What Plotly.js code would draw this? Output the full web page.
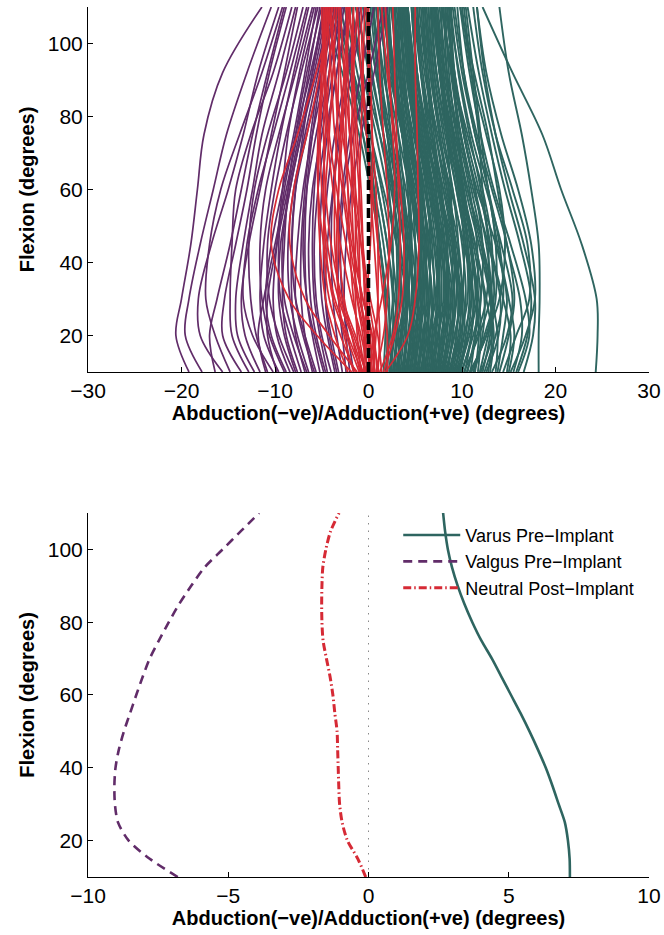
<!DOCTYPE html>
<html>
<head>
<meta charset="utf-8">
<script src="https://cdn.plot.ly/plotly-3.0.1.min.js"></script>
<style>
  html, body { margin: 0; padding: 0; background: #fff; }
  #chart { width: 664px; height: 935px; }
</style>
</head>
<body>
<div id="chart"></div>
<script>
// Flexion angles (degrees) at which every individual trial is sampled
const trialFlexion = [10, 20, 30, 45, 60, 75, 92, 110];

// Varus knees, pre-implant: abduction/adduction (degrees) per trial
const varusTrials = [
  [24.3, 24.5, 24.4, 22.8, 20.6, 18.6, 15.4, 12.2],
  [18.2, 18.2, 18.3, 18.2, 17.4, 16.4, 15.0, 14.0],
  [15.8, 17.0, 17.4, 16.2, 14.6, 13.2, 11.8, 10.6],
  [15.5, 16.4, 16.2, 14.8, 13.8, 12.8, 11.3, 9.8],
  [14.4, 15.8, 17.2, 17.0, 15.4, 13.6, 12.2, 11.2],
  [13.2, 14.8, 15.4, 14.2, 12.6, 11.0, 9.7, 8.6],
  [12.6, 13.9, 14.1, 12.8, 11.2, 9.9, 8.9, 7.8],
  [11.9, 12.8, 13.6, 13.6, 12.8, 11.4, 10.2, 9.5],
  [11.2, 12.2, 12.4, 11.4, 10.1, 9.1, 8.2, 7.2],
  [10.6, 11.4, 12.0, 11.2, 9.8, 8.4, 7.3, 6.7],
  [16.0, 17.2, 16.8, 15.2, 13.4, 12.0, 10.8, 9.8],
  [14.8, 15.2, 14.4, 13.0, 12.2, 11.8, 11.0, 10.2],
  [13.8, 14.4, 14.8, 13.6, 11.6, 10.2, 9.2, 8.4],
  [12.0, 13.2, 13.0, 11.8, 10.4, 9.6, 9.0, 8.6],
  [10.2, 11.8, 13.0, 13.2, 12.2, 10.6, 9.0, 7.8],
  [9.8, 10.6, 11.0, 10.4, 9.4, 8.4, 7.6, 7.0],
  [9.4, 10.2, 10.2, 9.4, 8.2, 7.2, 6.4, 5.8],
  [9.0, 9.8, 10.4, 10.0, 9.0, 7.8, 6.8, 6.0],
  [8.6, 9.4, 9.6, 8.8, 7.6, 6.6, 5.6, 5.0],
  [8.4, 9.0, 9.4, 9.2, 8.6, 7.6, 6.6, 6.0],
  [8.0, 8.8, 9.0, 8.2, 7.0, 5.8, 4.8, 4.2],
  [7.8, 8.4, 8.6, 8.4, 7.6, 6.8, 6.2, 5.8],
  [7.6, 8.2, 8.4, 7.6, 6.4, 5.2, 4.2, 3.6],
  [7.4, 7.8, 8.2, 8.0, 7.2, 6.2, 5.2, 4.6],
  [7.2, 7.6, 7.6, 7.0, 6.0, 4.8, 3.6, 2.8],
  [7.0, 7.4, 7.8, 7.6, 6.8, 5.6, 4.6, 4.0],
  [6.8, 7.2, 7.2, 6.6, 5.6, 4.4, 3.4, 2.8],
  [6.6, 7.0, 7.4, 7.0, 6.2, 5.2, 4.2, 3.6],
  [6.4, 6.8, 6.8, 6.2, 5.2, 4.0, 2.8, 2.0],
  [6.2, 6.6, 7.0, 6.8, 6.0, 5.0, 4.0, 3.4],
  [6.0, 6.4, 6.4, 5.8, 4.8, 3.6, 2.4, 1.6],
  [5.8, 6.2, 6.6, 6.4, 5.6, 4.6, 3.8, 3.2],
  [5.6, 6.0, 6.0, 5.4, 4.4, 3.2, 2.0, 1.2],
  [5.4, 5.8, 6.2, 6.0, 5.4, 4.6, 3.8, 3.4],
  [5.2, 5.6, 5.6, 5.0, 4.0, 2.8, 1.6, 0.8],
  [5.0, 5.4, 5.8, 5.8, 5.2, 4.4, 3.6, 3.0],
  [4.8, 5.2, 5.2, 4.6, 3.6, 2.4, 1.2, 0.4],
  [4.6, 5.0, 5.4, 5.4, 4.8, 4.0, 3.2, 2.8],
  [4.4, 4.8, 4.8, 4.2, 3.2, 2.0, 0.8, -0.2],
  [4.2, 4.6, 5.0, 5.0, 4.6, 3.8, 3.0, 2.6],
  [4.0, 4.4, 4.4, 3.8, 2.8, 1.6, 0.4, -0.6],
  [3.8, 4.2, 4.6, 4.6, 4.2, 3.6, 3.0, 2.6],
  [3.6, 4.0, 4.0, 3.4, 2.4, 1.2, 0.0, -1.2],
  [3.4, 3.8, 4.2, 4.4, 4.2, 3.8, 3.4, 3.2],
  [3.2, 3.6, 3.6, 3.0, 2.0, 0.8, -0.6, -1.8],
  [3.0, 3.4, 3.8, 3.8, 3.4, 2.8, 2.2, 1.8],
  [2.8, 3.0, 3.0, 2.4, 1.4, 0.2, -1.2, -2.6],
  [2.6, 3.0, 3.4, 3.4, 3.0, 2.4, 1.8, 1.4],
  [2.4, 2.6, 2.6, 2.0, 1.0, -0.2, -1.8, -3.4],
  [2.2, 2.6, 3.0, 3.0, 2.6, 2.0, 1.4, 1.0],
  [2.0, 2.2, 2.2, 1.6, 0.6, -0.6, -2.4, -4.2],
  [1.8, 2.2, 2.6, 2.6, 2.2, 1.6, 1.0, 0.6],
  [1.6, 1.8, 1.8, 1.2, 0.2, -1.0, -2.8, -5.0],
  [10.0, 11.0, 11.2, 10.2, 8.8, 7.4, 6.2, 5.4],
  [9.6, 10.8, 11.6, 11.6, 10.8, 9.6, 8.4, 7.6],
  [9.2, 10.0, 10.0, 9.0, 7.6, 6.2, 5.0, 4.2],
  [8.8, 9.6, 10.0, 9.6, 8.4, 7.2, 6.0, 5.2],
  [8.2, 9.2, 9.8, 9.2, 8.0, 6.4, 5.2, 4.6],
  [12.8, 13.2, 12.6, 11.4, 10.0, 8.8, 7.8, 7.0],
  [11.4, 11.8, 11.6, 10.8, 9.8, 9.0, 8.4, 8.0],
  [10.8, 12.6, 13.2, 12.2, 10.6, 9.2, 8.0, 7.2],
  [13.6, 13.8, 13.2, 12.0, 10.6, 9.4, 8.2, 7.4],
  [15.0, 15.6, 15.0, 13.8, 12.8, 12.0, 11.2, 10.4],
  [7.9, 8.6, 8.8, 8.0, 6.6, 5.4, 4.4, 3.8],
  [6.9, 7.5, 8.0, 7.8, 7.0, 6.0, 5.2, 4.8],
  [5.9, 6.5, 6.8, 6.2, 5.0, 3.8, 2.6, 1.8],
  [4.9, 5.5, 6.0, 6.0, 5.6, 5.0, 4.4, 4.2],
  [3.9, 4.5, 4.8, 4.4, 3.4, 2.2, 1.0, 0.2],
  [2.9, 3.5, 4.0, 4.2, 3.8, 3.2, 2.6, 2.2],
  [2.3, 2.8, 3.2, 3.2, 2.6, 1.6, 0.2, -1.4],
  [2.7, 3.2, 3.8, 4.0, 3.6, 2.8, 1.6, 0.4],
  [3.1, 3.6, 4.2, 4.6, 4.4, 3.8, 2.8, 1.8],
  [3.5, 4.2, 4.8, 5.0, 4.6, 3.6, 2.2, 0.8],
  [3.7, 4.0, 4.2, 3.8, 3.0, 2.0, 0.8, -0.4],
  [4.1, 4.8, 5.4, 5.6, 5.2, 4.4, 3.4, 2.4],
  [4.3, 5.0, 5.6, 5.4, 4.6, 3.6, 2.6, 1.8],
  [4.5, 5.2, 5.8, 6.2, 5.8, 5.0, 4.0, 3.2],
  [4.7, 5.4, 5.8, 5.6, 4.8, 3.8, 2.6, 1.4],
  [5.1, 5.8, 6.4, 6.6, 6.2, 5.4, 4.6, 4.0],
  [5.3, 6.0, 6.6, 6.4, 5.8, 5.0, 4.2, 3.8],
  [5.5, 6.4, 7.2, 7.4, 6.8, 5.8, 4.8, 4.2],
  [5.7, 6.2, 6.4, 6.0, 5.2, 4.2, 3.2, 2.4],
  [6.1, 6.8, 7.4, 7.6, 7.2, 6.4, 5.6, 5.2],
  [6.3, 7.0, 7.6, 7.2, 6.4, 5.4, 4.4, 3.6],
  [6.5, 7.4, 8.2, 8.4, 7.8, 6.8, 5.8, 5.2],
  [6.7, 7.2, 7.6, 7.4, 6.6, 5.6, 4.6, 3.8],
  [7.1, 7.8, 8.4, 8.2, 7.4, 6.2, 5.0, 4.2],
  [7.3, 8.2, 9.0, 9.2, 8.6, 7.6, 6.6, 6.0],
  [7.5, 8.0, 8.2, 7.8, 6.8, 5.6, 4.4, 3.4],
  [7.7, 8.6, 9.4, 9.6, 9.0, 8.0, 7.0, 6.4],
  [8.1, 8.8, 9.2, 8.6, 7.4, 6.0, 4.8, 4.0],
  [8.3, 9.2, 10.0, 10.2, 9.6, 8.6, 7.6, 7.0],
  [8.5, 9.0, 9.2, 8.6, 7.8, 7.0, 6.2, 5.6],
  [8.7, 9.8, 10.6, 10.4, 9.4, 8.2, 7.0, 6.4],
  [8.9, 9.4, 9.6, 9.0, 8.0, 6.8, 5.6, 4.8],
  [9.1, 10.2, 11.0, 11.0, 10.2, 9.0, 7.8, 7.2],
  [9.3, 9.8, 9.8, 9.2, 8.4, 7.6, 6.8, 6.2],
  [9.5, 10.6, 11.4, 11.0, 9.8, 8.4, 7.2, 6.6],
  [9.7, 10.4, 10.8, 10.6, 9.8, 8.8, 7.8, 7.2],
  [9.9, 11.2, 12.0, 12.2, 11.4, 10.2, 9.0, 8.4],
  [10.3, 11.0, 11.2, 10.6, 9.6, 8.6, 7.6, 6.8],
  [10.5, 11.6, 12.6, 12.8, 12.0, 10.8, 9.6, 8.8],
  [10.9, 11.4, 11.6, 11.0, 10.0, 8.8, 7.6, 6.8],
  [11.3, 12.4, 13.4, 13.0, 11.8, 10.4, 9.2, 8.2],
  [11.7, 12.0, 11.8, 11.0, 10.2, 9.4, 8.6, 8.2],
  [12.2, 13.0, 13.2, 12.6, 11.4, 10.2, 9.2, 8.8],
  [12.4, 13.6, 14.4, 14.0, 12.8, 11.4, 10.0, 9.0],
  [13.0, 13.4, 13.0, 12.2, 11.0, 9.8, 8.8, 8.0],
  [14.0, 15.0, 15.6, 14.8, 13.2, 11.6, 10.2, 9.2],
  [6.0, 5.8, 5.2, 4.0, 2.6, 1.2, -0.6, -2.4],
  [5.0, 4.8, 4.2, 3.0, 1.6, 0.2, -1.6, -3.6],
  [3.3, 3.2, 2.8, 2.0, 1.0, -0.2, -1.6, -3.0],
  [2.5, 2.4, 2.0, 1.2, 0.4, -0.6, -2.0, -3.8],
  [1.9, 2.0, 1.8, 1.2, 0.6, 0.0, -0.8, -1.8],
  [4.0, 4.6, 5.2, 5.6, 5.6, 5.2, 4.6, 4.2],
  [7.0, 8.0, 8.8, 9.0, 8.8, 8.4, 8.0, 7.8],
  [11.0, 12.6, 14.0, 14.6, 14.0, 12.6, 11.0, 10.0],
  [16.6, 17.6, 17.8, 16.6, 15.0, 13.6, 12.4, 11.6],
  [15.2, 16.8, 17.8, 17.4, 16.0, 14.2, 12.6, 11.6]
];

// Valgus knees, pre-implant
const valgusTrials = [
  [-19.2, -20.6, -20.0, -19.0, -18.3, -17.6, -15.6, -11.4],
  [-17.8, -19.6, -19.2, -18.0, -16.6, -15.2, -13.0, -10.4],
  [-15.6, -18.0, -18.2, -16.8, -15.0, -13.4, -11.8, -9.6],
  [-14.8, -16.4, -17.4, -17.0, -15.8, -13.8, -11.4, -9.2],
  [-13.6, -15.6, -15.4, -14.2, -13.0, -12.0, -10.6, -8.8],
  [-12.8, -14.6, -14.8, -14.6, -14.2, -12.6, -10.2, -8.2],
  [-11.6, -13.2, -13.6, -12.8, -11.6, -10.4, -9.0, -7.6],
  [-10.8, -12.0, -12.6, -12.8, -12.2, -10.8, -8.8, -7.0],
  [-10.2, -12.4, -13.4, -13.0, -11.8, -10.2, -8.4, -6.6],
  [-9.6, -11.2, -11.6, -11.2, -10.4, -9.4, -8.0, -6.4],
  [-9.0, -10.6, -11.4, -11.6, -11.0, -9.6, -7.8, -6.0],
  [-8.4, -9.8, -10.2, -9.8, -9.2, -8.6, -7.4, -5.8],
  [-8.0, -9.6, -10.6, -10.8, -10.0, -8.8, -7.2, -5.4],
  [-7.6, -8.8, -9.2, -9.0, -8.6, -7.8, -6.6, -5.0],
  [-7.2, -8.4, -9.4, -9.6, -9.0, -7.8, -6.2, -4.6],
  [-6.8, -7.8, -8.2, -8.2, -7.8, -7.0, -6.0, -4.8],
  [-6.4, -7.6, -8.4, -8.6, -8.0, -6.8, -5.4, -4.0],
  [-6.0, -6.8, -7.2, -7.2, -6.8, -6.2, -5.2, -3.8],
  [-5.6, -6.8, -7.8, -8.2, -7.8, -6.6, -5.0, -3.4],
  [-5.2, -6.0, -6.6, -6.8, -6.6, -6.0, -5.0, -3.6],
  [-4.8, -5.8, -6.6, -7.0, -6.6, -5.6, -4.2, -2.8],
  [-4.4, -5.2, -5.8, -6.0, -5.8, -5.2, -4.2, -3.0],
  [-4.0, -5.0, -5.6, -5.8, -5.4, -4.6, -3.4, -2.0],
  [-3.6, -4.4, -5.0, -5.2, -5.0, -4.4, -3.4, -2.2],
  [-3.2, -4.0, -4.6, -4.8, -4.4, -3.6, -2.4, -1.0],
  [-2.8, -3.4, -3.8, -4.0, -3.8, -3.2, -2.2, -0.8],
  [-2.4, -2.8, -3.2, -3.2, -2.8, -2.0, -0.8, 0.6],
  [-2.0, -2.4, -2.6, -2.4, -1.8, -0.8, 0.6, 2.0],
  [-11.0, -11.8, -11.2, -10.0, -8.8, -7.6, -6.4, -5.2],
  [-9.8, -10.8, -10.8, -9.8, -8.6, -7.4, -6.0, -4.6],
  [-8.8, -10.4, -11.0, -10.4, -9.2, -8.0, -6.8, -5.6],
  [-7.8, -9.0, -9.6, -9.4, -8.4, -7.2, -5.8, -4.4],
  [-6.6, -8.0, -9.0, -9.2, -8.4, -7.2, -5.6, -4.2],
  [-5.8, -7.0, -7.8, -7.6, -7.0, -6.0, -4.6, -3.2],
  [-4.6, -5.6, -6.2, -6.4, -6.0, -5.0, -3.8, -2.6],
  [-3.4, -4.2, -4.6, -4.4, -3.8, -3.0, -1.8, -0.4],
  [-16.4, -17.0, -16.2, -14.8, -13.6, -12.4, -10.8, -9.0],
  [-12.2, -14.0, -14.2, -13.4, -12.4, -11.4, -9.6, -7.8],
  [-1.6, -2.2, -2.8, -3.0, -2.6, -1.6, 0.0, 1.6]
];

// Neutral knees, post-implant
const neutralTrials = [
  [-1.8, -5.5, -8.5, -10.4, -9.6, -7.6, -5.6, -3.8],
  [-1.2, -4.2, -6.8, -8.4, -8.0, -6.6, -5.2, -4.4],
  [1.8, 4.2, 5.0, 5.4, 5.3, 5.2, 5.0, 5.0],
  [1.2, 2.6, 3.2, 3.4, 3.2, 3.0, 2.8, 2.6],
  [0.8, 1.6, 2.0, 2.2, 2.0, 1.6, 1.2, 1.0],
  [0.6, 0.4, -0.6, -1.8, -2.6, -3.2, -3.6, -4.0],
  [0.4, 0.2, -0.2, -0.8, -1.4, -2.0, -2.6, -3.0],
  [0.2, -0.4, -1.2, -2.4, -3.4, -4.2, -4.6, -4.8],
  [0.0, -0.8, -1.8, -3.0, -3.8, -4.4, -4.8, -5.0],
  [-0.2, -1.4, -2.8, -4.0, -4.6, -4.8, -4.6, -4.2],
  [-0.4, -1.0, -1.6, -2.0, -2.2, -2.4, -2.4, -2.2],
  [-0.6, -1.8, -3.2, -4.4, -5.0, -5.2, -5.0, -4.6],
  [-0.8, -1.2, -1.4, -1.4, -1.4, -1.6, -1.8, -1.6],
  [-1.0, -2.4, -3.8, -4.6, -4.8, -4.6, -4.2, -3.6],
  [1.0, 1.2, 1.0, 0.6, 0.2, -0.2, -0.6, -0.8],
  [0.9, 0.6, 0.0, -0.6, -1.0, -1.4, -1.6, -1.6],
  [0.5, 0.8, 1.0, 1.0, 0.8, 0.4, 0.0, -0.2],
  [0.3, -0.2, -0.8, -1.2, -1.6, -2.0, -2.2, -2.4],
  [0.1, 0.6, 1.4, 2.4, 2.8, 2.6, 2.2, 1.8],
  [-0.1, -0.6, -1.2, -1.6, -1.8, -1.8, -1.6, -1.2],
  [-0.3, -1.6, -3.0, -3.6, -3.6, -3.4, -3.2, -3.2],
  [-0.5, -0.4, -0.2, 0.2, 0.4, 0.4, 0.2, 0.0],
  [-0.7, -2.2, -3.6, -4.8, -5.4, -5.4, -5.0, -4.6],
  [-1.4, -3.0, -4.2, -4.8, -4.6, -4.2, -3.8, -3.4],
  [1.4, 1.0, 0.2, -0.8, -1.8, -2.8, -3.6, -4.2],
  [0.7, 0.0, -1.0, -2.0, -2.8, -3.6, -4.0, -4.4],
  [-0.9, -1.8, -2.6, -3.2, -3.2, -3.0, -2.6, -2.2],
  [-1.6, -2.6, -3.2, -3.4, -3.2, -2.8, -2.4, -2.0],
  [2.0, 2.0, 1.6, 1.0, 0.4, -0.2, -0.8, -1.2],
  [1.6, 2.8, 3.6, 3.8, 3.4, 2.8, 2.0, 1.4],
  [-0.2, -0.4, -0.8, -1.0, -1.0, -0.8, -0.6, -0.4],
  [0.2, 0.0, -0.4, -0.6, -0.8, -1.2, -1.6, -2.0],
  [-2.2, -3.6, -4.6, -5.2, -5.4, -5.2, -4.8, -4.4],
  [1.1, 0.4, -0.6, -1.6, -2.2, -2.6, -3.0, -3.2]
];

// Group means
const meanFlexion = [10, 15, 20, 25, 30, 35, 40, 45, 50, 55, 60, 65, 70, 75, 80, 85, 90, 95, 100, 105, 110];
const varusMean   = [7.18, 7.17, 7.11, 7.0, 6.78, 6.56, 6.32, 6.04, 5.74, 5.42, 5.08, 4.74, 4.4, 4.02, 3.7, 3.42, 3.18, 2.98, 2.83, 2.73, 2.66];
const valgusMean  = [-6.8, -7.8, -8.55, -8.93, -9.04, -9.06, -9.02, -8.9, -8.72, -8.5, -8.28, -8.05, -7.8, -7.47, -7.12, -6.75, -6.32, -5.85, -5.2, -4.55, -3.9];
const neutralMean = [-0.1, -0.38, -0.75, -0.94, -1.03, -1.06, -1.08, -1.1, -1.12, -1.2, -1.27, -1.37, -1.5, -1.62, -1.66, -1.67, -1.66, -1.63, -1.52, -1.35, -1.05];

const seriesNames = ['Varus Pre\u2212Implant', 'Valgus Pre\u2212Implant', 'Neutral Post\u2212Implant'];
const referenceX = [0, 0];
const referenceY = [10, 110];

const TEAL = '#2e6560';
const PURPLE = '#612c69';
const RED = '#d62a35';
const FONT = 'Liberation Sans, Arial, Helvetica, sans-serif';

const traces = [];

function addTrials(trials, color, width) {
  trials.forEach(function (xs) {
    traces.push({
      type: 'scatter', mode: 'lines',
      x: xs, y: trialFlexion,
      xaxis: 'x', yaxis: 'y',
      line: { color: color, width: width, shape: 'spline', smoothing: 1 },
      showlegend: false, hoverinfo: 'skip'
    });
  });
}
addTrials(varusTrials, TEAL, 1.9);
addTrials(valgusTrials, PURPLE, 1.7);
addTrials(neutralTrials, RED, 1.7);

// zero line over the individual trials
traces.push({
  type: 'scatter', mode: 'lines', x: referenceX, y: referenceY,
  xaxis: 'x', yaxis: 'y',
  line: { color: '#000', width: 3.6, dash: '10px,4px' },
  showlegend: false, hoverinfo: 'skip'
});

// lower panel: dotted zero line and the group means
traces.push({
  type: 'scatter', mode: 'lines', x: referenceX, y: referenceY,
  xaxis: 'x2', yaxis: 'y2',
  line: { color: '#8a8a8a', width: 1, dash: '1.5px,6px' },
  showlegend: false, hoverinfo: 'skip'
});
traces.push({
  type: 'scatter', mode: 'lines', name: seriesNames[0],
  x: varusMean, y: meanFlexion, xaxis: 'x2', yaxis: 'y2',
  line: { color: TEAL, width: 2.6, shape: 'spline', smoothing: 0.8 }
});
traces.push({
  type: 'scatter', mode: 'lines', name: seriesNames[1],
  x: valgusMean, y: meanFlexion, xaxis: 'x2', yaxis: 'y2',
  line: { color: PURPLE, width: 2.6, dash: '9px,6px', shape: 'spline', smoothing: 0.8 }
});
traces.push({
  type: 'scatter', mode: 'lines', name: seriesNames[2],
  x: neutralMean, y: meanFlexion, xaxis: 'x2', yaxis: 'y2',
  line: { color: RED, width: 3, dash: '8px,3px,1.5px,3px', shape: 'spline', smoothing: 0.8 }
});

const xTitle = 'Abduction(\u2212ve)/Adduction(+ve) (degrees)';
const yTitle = 'Flexion (degrees)';

function axisBase() {
  return {
    showline: true, linecolor: '#000', linewidth: 1,
    ticks: 'inside', ticklen: 5, tickwidth: 1, tickcolor: '#000',
    showgrid: false, zeroline: false, mirror: false,
    tickfont: { family: FONT, size: 21, color: '#000' },
    fixedrange: true
  };
}

const layout = {
  width: 664, height: 935,
  margin: { l: 88, r: 15, t: 7, b: 58 },
  paper_bgcolor: '#fff', plot_bgcolor: '#fff',
  font: { family: FONT, color: '#000' },
  showlegend: true,
  legend: {
    x: 0.553, xanchor: 'left', y: 0.414, yanchor: 'top',
    bgcolor: 'rgba(0,0,0,0)', borderwidth: 0,
    font: { family: FONT, size: 18, color: '#000' },
    itemwidth: 57, tracegroupgap: 0
  },
  xaxis: Object.assign(axisBase(), {
    anchor: 'y', domain: [0, 1], range: [-30, 30],
    tickvals: [-30, -20, -10, 0, 10, 20, 30],
    title: { text: xTitle, font: { family: FONT, size: 20, weight: 'bold' }, standoff: 3 }
  }),
  yaxis: Object.assign(axisBase(), {
    anchor: 'x', domain: [0.5805, 1], range: [10, 110],
    tickvals: [20, 40, 60, 80, 100],
    title: { text: yTitle, font: { family: FONT, size: 20, weight: 'bold' }, standoff: 7 }
  }),
  xaxis2: Object.assign(axisBase(), {
    anchor: 'y2', domain: [0, 1], range: [-10, 10],
    tickvals: [-10, -5, 0, 5, 10],
    title: { text: xTitle, font: { family: FONT, size: 20, weight: 'bold' }, standoff: 3 }
  }),
  yaxis2: Object.assign(axisBase(), {
    anchor: 'x2', domain: [0, 0.4184], range: [10, 110],
    tickvals: [20, 40, 60, 80, 100],
    title: { text: yTitle, font: { family: FONT, size: 20, weight: 'bold' }, standoff: 7 }
  })
};

Plotly.newPlot('chart', traces, layout, { staticPlot: true, displayModeBar: false });
</script>
</body>
</html>
